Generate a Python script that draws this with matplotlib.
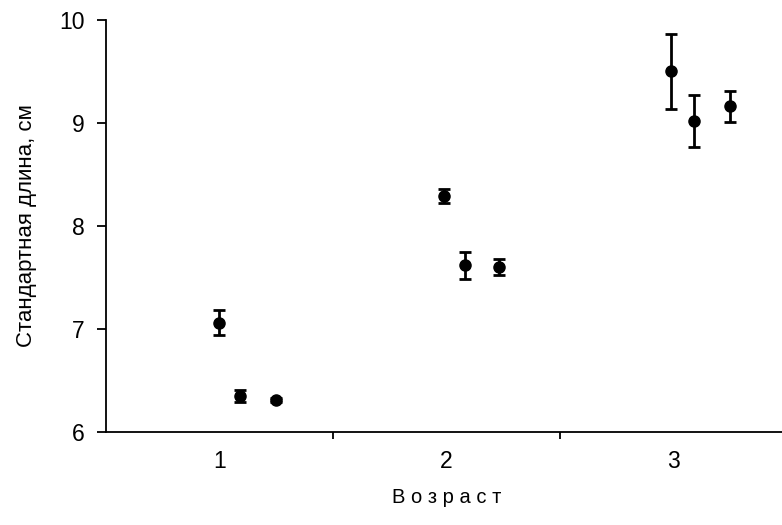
""" Standard length by age, with error bars. """

import matplotlib
matplotlib.use("Agg")
import matplotlib.pyplot as plt
from matplotlib.ticker import FixedLocator

# three samples per age group, slightly offset to the right of the age
x_pos = [1.00, 1.09, 1.25, 1.99, 2.08, 2.23, 2.99, 3.09, 3.25]
length_mean = [7.06, 6.35, 6.31, 8.29, 7.62, 7.60, 9.50, 9.02, 9.16]
length_err = [0.12, 0.06, 0.02, 0.07, 0.13, 0.08, 0.36, 0.25, 0.15]

age_ticks = [1, 2, 3]
age_labels = ["1", "2", "3"]
y_ticks = [6, 7, 8, 9, 10]


def main():
    plt.rcParams["font.family"] = ["Liberation Sans", "DejaVu Sans"]

    fig = plt.figure(figsize=(7.82, 5.25), dpi=100)
    ax = fig.add_axes([0.1355, 0.177, 0.871, 0.785])

    ax.errorbar(
        x_pos, length_mean, yerr=length_err,
        fmt="o", color="black", markersize=8,
        elinewidth=2, capsize=4.5, capthick=2,
    )

    ax.set_xlim(0.5, 3.5)
    ax.set_ylim(6, 10)
    ax.set_yticks(y_ticks)
    ax.set_xticks(age_ticks)
    ax.set_xticklabels(age_labels)
    ax.xaxis.set_minor_locator(FixedLocator([1.5, 2.5]))

    for side in ("top", "right"):
        ax.spines[side].set_visible(False)
    for side in ("left", "bottom"):
        ax.spines[side].set_linewidth(1.3)

    ax.tick_params(axis="y", direction="out", length=6.5, width=1.3,
                   labelsize=16.5, pad=9)
    ax.tick_params(axis="x", which="major", length=0, labelsize=16.5, pad=13)
    ax.tick_params(axis="x", which="minor", direction="out", length=5,
                   width=1.3)

    ax.set_xlabel("В о з р а с т", size=14.5, labelpad=11)
    ax.set_ylabel("Стандартная длина, см", size=16, labelpad=16)

    plt.savefig("out.png")


if __name__ == "__main__":
    main()
